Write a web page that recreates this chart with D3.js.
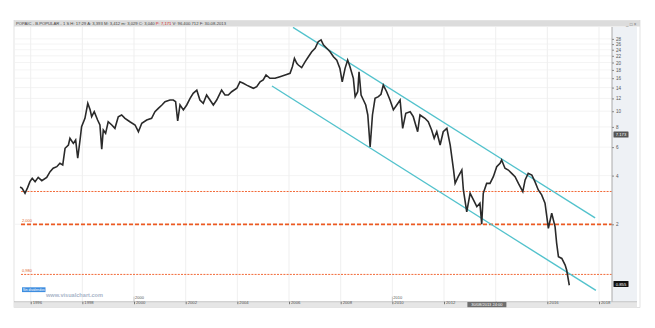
<!DOCTYPE html>
<html><head><meta charset="utf-8">
<script src="https://cdn.jsdelivr.net/npm/d3@7"></script>
<style>body{margin:0;background:#fff}svg{display:block;font-family:"Liberation Sans",Arial,sans-serif}</style>
</head><body><svg id="c" width="655" height="328"></svg>
<script>
// ---- data ----
const priceYears=[1995.59,1995.67,1995.78,1995.88,1995.97,1996.06,1996.17,1996.29,1996.43,1996.62,1996.75,1996.87,1997.01,1997.13,1997.24,1997.33,1997.46,1997.52,1997.65,1997.74,1997.82,1997.91,1997.97,1998.10,1998.21,1998.30,1998.36,1998.46,1998.59,1998.68,1998.75,1998.81,1998.90,1999.00,1999.14,1999.26,1999.39,1999.52,1999.65,1999.84,2000.04,2000.17,2000.30,2000.49,2000.68,2000.81,2000.94,2001.08,2001.20,2001.39,2001.52,2001.61,2001.69,2001.78,2001.91,2002.04,2002.17,2002.29,2002.43,2002.55,2002.68,2002.81,2002.94,2003.07,2003.20,2003.39,2003.52,2003.65,2003.78,2003.98,2004.10,2004.23,2004.36,2004.49,2004.62,2004.75,2004.88,2005.00,2005.11,2005.26,2005.46,2005.65,2005.85,2006.04,2006.13,2006.21,2006.30,2006.36,2006.49,2006.62,2006.75,2006.88,2007.01,2007.13,2007.24,2007.33,2007.46,2007.59,2007.72,2007.85,2007.97,2008.06,2008.17,2008.27,2008.36,2008.49,2008.56,2008.66,2008.71,2008.79,2008.88,2008.97,2009.05,2009.14,2009.23,2009.33,2009.46,2009.56,2009.65,2009.78,2009.91,2010.04,2010.17,2010.30,2010.40,2010.52,2010.69,2010.81,2010.98,2011.07,2011.26,2011.39,2011.52,2011.62,2011.72,2011.85,2011.97,2012.11,2012.24,2012.37,2012.43,2012.55,2012.69,2012.75,2012.88,2013.01,2013.14,2013.27,2013.39,2013.46,2013.52,2013.65,2013.78,2013.91,2014.04,2014.17,2014.23,2014.36,2014.49,2014.62,2014.75,2014.88,2015.05,2015.14,2015.26,2015.40,2015.52,2015.65,2015.78,2015.91,2015.98,2016.04,2016.17,2016.30,2016.36,2016.43,2016.56,2016.69,2016.75,2016.85];
const priceValues=[3.40,3.34,3.11,3.37,3.67,3.85,3.67,3.90,3.72,3.90,4.23,4.44,4.54,4.77,4.65,5.90,6.18,6.80,6.33,6.64,5.12,6.64,8.02,9.04,11.2,10.2,9.25,9.93,8.83,8.22,5.82,7.65,7.30,8.61,8.22,7.84,9.25,9.48,9.04,8.61,8.22,7.47,8.42,8.83,9.04,9.93,10.42,10.93,11.45,11.73,11.73,11.45,8.70,10.93,10.2,10.93,12.02,12.9,13.5,11.73,11.2,12.6,11.73,10.93,11.73,13.5,12.6,12.6,13.2,13.86,15.2,14.88,14.5,14.17,13.86,14.17,15.2,15.6,16.75,15.98,15.98,16.35,16.75,17.16,18.85,21.2,19.8,19.3,18.6,20.2,21.7,23.3,24.5,26.9,27.6,25.7,24.5,23.3,21.7,20.7,18.4,15.2,18.4,20.7,18.85,15.98,12.3,13.2,17.55,12.6,11.73,10.93,9.48,6.01,9.48,12.02,12.3,12.72,14.5,13.2,11.73,10.2,10.93,11.73,7.84,9.71,9.93,9.25,7.47,9.48,9.04,8.61,7.65,6.80,7.47,6.18,7.47,7.84,6.18,4.33,3.58,3.94,4.33,3.26,2.39,3.11,2.83,2.57,2.70,2.0,3.11,3.58,3.58,3.94,4.54,4.77,4.99,4.44,4.33,4.13,3.94,3.58,3.18,3.76,4.13,4.03,3.67,3.26,3.04,2.70,2.23,1.89,2.34,1.93,1.53,1.26,1.23,1.12,1.04,0.84];
const levelValues=[3.19,2.0,0.98];
const levelLabels=["","2,000","0,980"];
const upperYears=[2006.155,2017.85], upperValues=[32.97,2.19];
const lowerYears=[2005.34,2017.88], lowerValues=[14.32,0.78];
const yTicks=[2,4,6,8,10,12,14,16,18,20,22,24,26,28];
const xTicks=[1996,1998,2000,2002,2004,2006,2008,2010,2012,2014,2016,2018];
const xHiddenLabels=[2014]; // covered by the cursor date box
const priceMarks=[7.173,0.855], priceMarkLabels=["7.173","0.855"];
const cursorYear=2013.66, cursorLabel="30/08/2013 24:00";
const headerText="POPAIC - B.POPULAR - 1 S  H: 17:29  A: 3,393  M: 3,412  m: 3,029  C: 3,040 ";
const headerRed="P: 7,171";
const headerTail=" V: 96.400.712  F: 30-08-2013";

// ---- layout ----
const L=15, R=612, T=27, B=301.7, W=640;
const svg=d3.select("#c");
const x=d3.scaleLinear().domain([1996,2018]).range([30.7,599]);
const y=d3.scaleLog().base(2).domain([2,28]).range([224.3,224.3-48.7*Math.log2(14)]);

// window frame
svg.append("rect").attr("x",L-1).attr("y",20.5).attr("width",W-L+1).attr("height",287).attr("fill","#fff").attr("stroke","#cfcfcf").attr("stroke-width",0.6);
// header bar
svg.append("rect").attr("x",L-1).attr("y",21).attr("width",W-L+1).attr("height",5.5).attr("fill","#dcdcdc");
const ht=svg.append("text").attr("x",L+1).attr("y",25.3).attr("font-size",4.2).attr("fill","#444");
ht.append("tspan").text(headerText);
ht.append("tspan").attr("fill","#d02020").text(headerRed);
ht.append("tspan").text(headerTail);
svg.append("text").attr("x",626).attr("y",25.5).attr("font-size",4.5).attr("fill","#777").text("_ \u25a1 \u00d7");

// right axis panel
svg.append("rect").attr("x",R).attr("y",T).attr("width",W-R-3).attr("height",B-T).attr("fill","#eef1f5");

// clip
svg.append("clipPath").attr("id","pc").append("rect").attr("x",L).attr("y",T).attr("width",R-L).attr("height",B-T);
const g=svg.append("g").attr("clip-path","url(#pc)");

// grid
g.selectAll(".gx").data(xTicks).join("line").attr("x1",d=>x(d)).attr("x2",d=>x(d)).attr("y1",T).attr("y2",B).attr("stroke","#e8e8e8").attr("stroke-width",0.7);
g.selectAll(".gy").data(yTicks).join("line").attr("x1",L).attr("x2",R).attr("y1",d=>y(d)).attr("y2",d=>y(d)).attr("stroke","#efefef").attr("stroke-width",0.7);

// horizontal levels
g.selectAll(".lv").data(levelValues).join("line")
 .attr("x1",21).attr("x2",R).attr("y1",d=>y(d)).attr("y2",d=>y(d))
 .attr("stroke",(d,i)=>i===1?"#ec5a22":"#f26a38")
 .attr("stroke-width",(d,i)=>i===1?1.8:1)
 .attr("stroke-dasharray",(d,i)=>i===1?"4,2":"2,1.2");
svg.selectAll(".ll").data(levelValues).join("text")
 .attr("x",22).attr("y",d=>y(d)-2.5).attr("font-size",4).attr("fill","#e0602a")
 .text((d,i)=>levelLabels[i]);

// channel
const ch=[[upperYears,upperValues],[lowerYears,lowerValues]];
g.selectAll(".ch").data(ch).join("line")
 .attr("x1",d=>x(d[0][0])).attr("y1",d=>y(d[1][0]))
 .attr("x2",d=>x(d[0][1])).attr("y2",d=>y(d[1][1]))
 .attr("stroke","#52c2cc").attr("stroke-width",1.4);

// price
const pts=priceYears.map((t,i)=>[t,priceValues[i]]).filter(d=>d[1]!=null);
g.append("path").datum(pts)
 .attr("d",d3.line().x(d=>x(d[0])).y(d=>y(d[1])))
 .attr("fill","none").attr("stroke","#2a2a2a").attr("stroke-width",1.6).attr("stroke-linejoin","miter");

// right axis
const ya=svg.append("g").attr("transform",`translate(${R},0)`)
 .call(d3.axisRight(y).tickValues(yTicks).tickFormat(d3.format("d")).tickSize(2).tickPadding(2));
ya.select(".domain").attr("stroke","#aaa").attr("d",`M0,${T}V${B}`);
ya.selectAll("line").attr("stroke","#888");
ya.selectAll("text").attr("font-size",4.6).attr("fill","#555").attr("font-family","Liberation Sans, Arial, sans-serif");

// price marks on axis
priceMarks.forEach((v,i)=>{
  svg.append("rect").attr("x",R+1.5).attr("y",y(v)-3).attr("width",15).attr("height",6).attr("fill",i===0?"#555":"#111").attr("rx",0.5);
  svg.append("text").attr("x",R+9).attr("y",y(v)+1.6).attr("text-anchor","middle").attr("font-size",4.2).attr("fill","#fff").text(priceMarkLabels[i]);
});

// bottom axis band
svg.append("rect").attr("x",L-1).attr("y",B).attr("width",W-L-2).attr("height",5.8).attr("fill","#e6e6e6");
svg.append("line").attr("x1",L-1).attr("x2",W-3).attr("y1",B).attr("y2",B).attr("stroke","#aaa").attr("stroke-width",0.6);
const xa=svg.append("g").attr("transform",`translate(0,${B})`)
 .call(d3.axisBottom(x).tickValues(xTicks).tickFormat(d=>xHiddenLabels.includes(d)?"":d3.format("d")(d)).tickSize(2.5).tickPadding(0));
xa.select(".domain").remove();
xa.selectAll("line").attr("stroke","#777");
xa.selectAll("text").attr("font-size",4.2).attr("fill","#555").attr("text-anchor","start").attr("dx",1.5).attr("dy",-0.3).attr("font-family","Liberation Sans, Arial, sans-serif");
// decade markers
[2000,2010].forEach(d=>{
  svg.append("line").attr("x1",x(d)).attr("x2",x(d)).attr("y1",B-5).attr("y2",B).attr("stroke","#999").attr("stroke-width",0.5);
  svg.append("text").attr("x",x(d)+1).attr("y",B-3).attr("font-size",4).attr("fill","#555").text(d);
});
// cursor date box
svg.append("rect").attr("x",x(cursorYear)-19.5).attr("y",B+0.3).attr("width",39).attr("height",5.2).attr("fill","#6f6f6f");
svg.append("text").attr("x",x(cursorYear)).attr("y",B+4.3).attr("text-anchor","middle").attr("font-size",4).attr("fill","#fff").text(cursorLabel);

// button + watermark
svg.append("rect").attr("x",22).attr("y",287.3).attr("width",23.5).attr("height",4.8).attr("fill","#3d8de0");
svg.append("text").attr("x",33.7).attr("y",291).attr("text-anchor","middle").attr("font-size",3.4).attr("fill","#fff").text("Sin dividendos");
svg.append("text").attr("x",46).attr("y",296.8).attr("font-size",5.6).attr("fill","#a8b4c8").attr("font-weight","bold").text("www.visualchart.com");
</script></body></html>
